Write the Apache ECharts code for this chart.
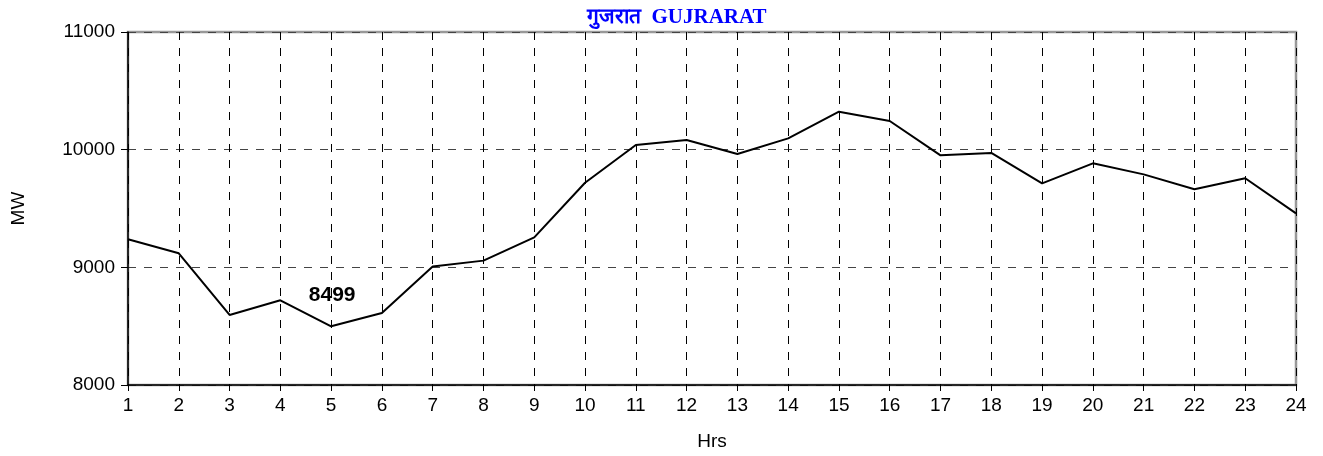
<!DOCTYPE html>
<html>
<head>
<meta charset="utf-8">
<script src="https://cdn.jsdelivr.net/npm/echarts@6/dist/echarts.min.js"></script>
<style>
  html, body { margin: 0; padding: 0; background: #fff; }
  #chart { width: 1323px; height: 456px; }
</style>
</head>
<body>
<div id="chart"></div>
<script>
// hourly demand, Gujarat
const hours = ['1','2','3','4','5','6','7','8','9','10','11','12','13','14','15','16','17','18','19','20','21','22','23','24'];
const demand = [9238, 9119, 8595, 8720, 8499, 8612, 9008, 9057, 9255, 9719, 10040, 10082,
  9963, 10096, 10323, 10244, 9952, 9972, 9714, 9884, 9790, 9663, 9757, 9459];
const yTicks = [8000, 9000, 10000, 11000];
const minIndex = 4; // labelled point (8499)

const chartDom = document.getElementById('chart');
const myChart = echarts.init(chartDom);

const option = {
  animation: false,
  textStyle: { fontFamily: 'Liberation Sans, Arial, sans-serif' },
  title: {
    text: 'गुजरात  GUJRARAT',
    left: 582,
    top: 2,
    textStyle: {
      color: '#0000ff',
      fontSize: 21,
      fontWeight: 'bold',
      fontFamily: 'Liberation Serif, Times New Roman, serif'
    }
  },
  grid: {
    left: 128,
    right: 27,
    top: 32,
    bottom: 71,
    show: true,
    borderColor: '#999',
    borderWidth: 2.5
  },
  xAxis: {
    type: 'category',
    data: hours,
    boundaryGap: false,
    name: 'Hrs',
    nameLocation: 'middle',
    nameGap: 47,
    nameTextStyle: { color: '#000', fontSize: 19 },
    axisLine: { lineStyle: { color: '#000', width: 1.5 } },
    axisTick: { length: 6, lineStyle: { color: '#000' } },
    axisLabel: { color: '#000', fontSize: 19, margin: 11 },
    splitLine: { show: true, lineStyle: { color: '#000', type: [8, 8], width: 1 } }
  },
  yAxis: {
    type: 'value',
    min: yTicks[0],
    max: yTicks[yTicks.length - 1],
    interval: 1000,
    name: 'MW',
    nameLocation: 'middle',
    nameGap: 100,
    nameTextStyle: { color: '#000', fontSize: 19 },
    axisLine: { show: true, lineStyle: { color: '#000', width: 1.5 } },
    axisTick: { show: true, length: 7, lineStyle: { color: '#000' } },
    axisLabel: { color: '#000', fontSize: 19, margin: 13, formatter: v => String(v) },
    splitLine: { show: true, lineStyle: { color: '#444', type: [8, 8], width: 1 } }
  },
  series: [
    {
      name: 'MW',
      type: 'line',
      data: demand.map((v, i) => i === minIndex ? {
        value: v,
        symbol: 'circle',
        symbolSize: 1,
        itemStyle: { color: 'rgba(0,0,0,0)' },
        label: {
          show: true,
          position: 'top',
          distance: 20,
          offset: [1, 0],
          color: '#000',
          fontSize: 21,
          fontWeight: 'bold'
        }
      } : v),
      showSymbol: true,
      symbol: 'none',
      lineStyle: { color: '#000', width: 2 },
      z: 5
    }
  ]
};
option && myChart.setOption(option);
window.addEventListener('resize', function () {
  myChart.resize();
});
</script>
</body>
</html>
